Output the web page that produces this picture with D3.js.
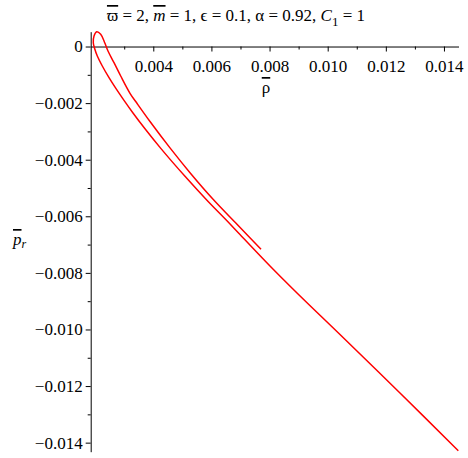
<!DOCTYPE html>
<html>
<head>
<meta charset="utf-8">
<script src="https://cdn.jsdelivr.net/npm/d3@7"></script>
<style>
  body { margin: 0; background: #fff; }
  svg text { font-family: "Liberation Serif", "Times New Roman", serif; }
</style>
</head>
<body>
<svg id="chart" width="468" height="458"></svg>
<script>
// curve points, traced from the short branch end round the loop to the long branch end
const rho = [0.007706, 0.006880, 0.006065, 0.005263, 0.004575, 0.003887, 0.003450, 0.003199,
  0.002879, 0.002649, 0.002442, 0.002329, 0.002191, 0.002053, 0.001961, 0.001936, 0.001985,
  0.002074, 0.002246, 0.002477, 0.002707, 0.002993, 0.003302, 0.003715, 0.004265, 0.005091,
  0.005838, 0.006526, 0.006983, 0.008015, 0.008979, 0.010423, 0.012487, 0.014493];
const pr = [-0.007167, -0.006283, -0.005407, -0.004459, -0.003583, -0.002650, -0.002024, -0.001653,
  -0.001042, -0.000572, -0.000158, 0.000135, 0.000432, 0.000524, 0.000372, 0.000135, -0.000077,
  -0.000335, -0.000688, -0.001102, -0.001473, -0.001904, -0.002349, -0.002908, -0.003608, -0.004587,
  -0.005424, -0.006149, -0.006644, -0.007757, -0.008746, -0.010178, -0.012245, -0.014285];

const xTicks = [0.004, 0.006, 0.008, 0.010, 0.012, 0.014];
const xMinor = [0.003, 0.005, 0.007, 0.009, 0.011, 0.013];
const yTicks = [0, -0.002, -0.004, -0.006, -0.008, -0.010, -0.012, -0.014];
const yMinor = [-0.001, -0.003, -0.005, -0.007, -0.009, -0.011, -0.013];

const svg = d3.select("#chart");
const fmt = v => v === 0 ? "0" : d3.format(".3f")(v).replace("-", "\u2212");

const x = d3.scaleLinear().domain([0.001847, 0.0145]).range([90.7, 458.5]);
const y = d3.scaleLinear().domain([0.000524, -0.01432]).range([31.7, 451.7]);

// x axis sits on p_r = 0
const gx = svg.append("g").attr("transform", `translate(0,${y(0)})`);
gx.call(d3.axisBottom(x).tickValues(xTicks).tickFormat(fmt).tickSize(5).tickPadding(8).tickSizeOuter(0));
gx.append("g").call(d3.axisBottom(x).tickValues(xMinor).tickFormat("").tickSize(3).tickSizeOuter(0))
  .select(".domain").remove();

const gy = svg.append("g").attr("transform", `translate(${x.range()[0]},0)`);
gy.call(d3.axisLeft(y).tickValues(yTicks).tickFormat(fmt).tickSize(5).tickPadding(3).tickSizeOuter(0));
gy.append("g").call(d3.axisLeft(y).tickValues(yMinor).tickFormat("").tickSize(3).tickSizeOuter(0))
  .select(".domain").remove();

svg.selectAll("g").attr("font-family", null).attr("font-size", null);
svg.selectAll(".tick text").attr("font-size", 17).attr("fill", "#000");
svg.selectAll(".domain, .tick line").attr("stroke", "#000");

const line = d3.line().x((d, i) => x(rho[i])).y(d => y(d)).curve(d3.curveCatmullRom.alpha(0.5));
svg.append("path")
  .attr("d", line(pr))
  .attr("fill", "none")
  .attr("stroke", "#ff0000")
  .attr("stroke-width", 1.5);

// title
const title = svg.append("text").attr("x", 236).attr("y", 21).attr("text-anchor", "middle")
  .attr("font-size", 17);
title.append("tspan").text("\u03D6").style("text-decoration", "overline");
title.append("tspan").text(" = 2, ");
title.append("tspan").text("m").attr("font-style", "italic").style("text-decoration", "overline");
title.append("tspan").text(" = 1, \u03F5 = 0.1, \u03B1 = 0.92, ");
title.append("tspan").text("C").attr("font-style", "italic");
title.append("tspan").text("1").attr("dy", 5).attr("font-size", 13);
title.append("tspan").text(" = 1").attr("dy", -5);

// axis labels
svg.append("text").attr("x", 266).attr("y", 93).attr("text-anchor", "middle").attr("font-size", 17)
  .style("text-decoration", "overline").text("\u03C1");

const yl = svg.append("text").attr("x", 13).attr("y", 245).attr("font-size", 17);
yl.append("tspan").text("p").attr("font-style", "italic").style("text-decoration", "overline");
yl.append("tspan").text("r").attr("font-style", "italic").attr("font-size", 12).attr("dy", 3);
</script>
</body>
</html>
